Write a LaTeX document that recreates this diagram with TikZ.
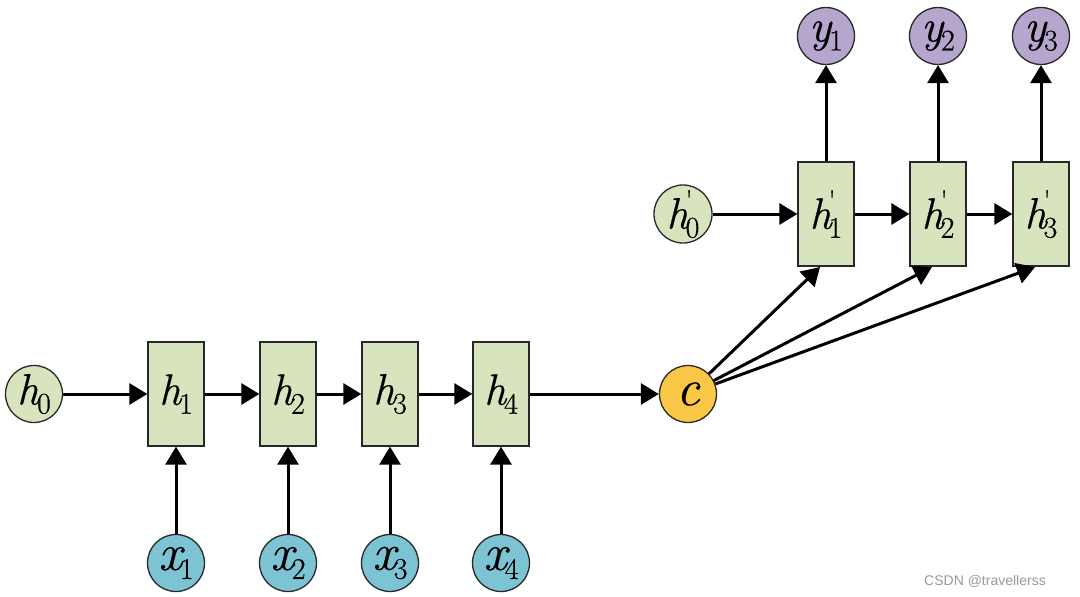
\documentclass[tikz,border=0pt]{standalone}
\usepackage{fontspec}
\newfontfamily\wmfont{Liberation Sans}
\newfontfamily\tms{Latin Modern Roman}[FakeBold=0.5]
\usetikzlibrary{arrows.meta}
\definecolor{boxgreen}{RGB}{215,228,189}
\definecolor{xblue}{RGB}{124,196,212}
\definecolor{ypurple}{RGB}{182,165,205}
\definecolor{cyellow}{RGB}{250,200,70}
\definecolor{edgec}{RGB}{40,40,40}
\newcommand\subl[3]{{\tms\fontsize{#3}{#3}\selectfont\itshape #1}\kern-2pt\raisebox{-9pt}{\tms\fontsize{30}{30}\selectfont #2}}
\newcommand\subp[2]{{\tms\fontsize{44}{44}\selectfont\itshape #1}\kern-3pt\rlap{\raisebox{19pt}{\tms\fontsize{28}{28}\selectfont '}}\raisebox{-9pt}{\tms\fontsize{30}{30}\selectfont #2}}
\tikzset{
  cell/.style={draw=edgec, line width=1.3pt, fill=boxgreen, minimum width=56pt, minimum height=104pt, inner sep=0pt, font=\tms},
  circ/.style={draw=edgec, line width=1.3pt, circle, minimum size=57pt, inner sep=0pt, font=\tms},
  arr/.style={line width=3pt, -{Triangle[length=18pt,width=21pt]}},
}
\begin{document}
\begin{tikzpicture}[x=1pt,y=-1pt]
\useasboundingbox (0,0) rectangle (1080,597);
% encoder
\node[circ, fill=boxgreen] (h0) at (34,394) {\subl{h}{0}{44}};
\node[cell] (h1) at (176,394) {\subl{h}{1}{44}};
\node[cell] (h2) at (288,394) {\subl{h}{2}{44}};
\node[cell] (h3) at (390,394) {\subl{h}{3}{44}};
\node[cell] (h4) at (501,394) {\subl{h}{4}{44}};
\node[circ, fill=xblue] (x1) at (176,563) {\subl{x}{1}{52}};
\node[circ, fill=xblue] (x2) at (288,563) {\subl{x}{2}{52}};
\node[circ, fill=xblue] (x3) at (390,563) {\subl{x}{3}{52}};
\node[circ, fill=xblue] (x4) at (501,563) {\subl{x}{4}{52}};
\node[circ, fill=cyellow] (c) at (688,394) {{\tms\fontsize{52}{52}\selectfont\itshape c}};
% decoder
\node[circ, fill=boxgreen] (hp0) at (683,214) {\subp{h}{0}};
\node[cell] (hp1) at (826,214) {\subp{h}{1}};
\node[cell] (hp2) at (938,214) {\subp{h}{2}};
\node[cell] (hp3) at (1041,214) {\subp{h}{3}};
\node[circ, fill=ypurple] (y1) at (826,36) {\subl{y}{1}{46}};
\node[circ, fill=ypurple] (y2) at (938,36) {\subl{y}{2}{46}};
\node[circ, fill=ypurple] (y3) at (1041,36) {\subl{y}{3}{46}};
% arrows
\draw[arr] (h0) -- (h1);
\draw[arr] (h1) -- (h2);
\draw[arr] (h2) -- (h3);
\draw[arr] (h3) -- (h4);
\draw[arr] (h4) -- (c);
\foreach \i in {1,2,3,4} \draw[arr] (x\i) -- (h\i);
\draw[arr] (hp0) -- (hp1);
\draw[arr] (hp1) -- (hp2);
\draw[arr] (hp2) -- (hp3);
\draw[arr] (hp1.north) -- (y1);
\draw[arr] (hp2.north) -- (y2);
\draw[arr] (hp3.north) -- (y3);
\coordinate (t1) at (820,267);
\coordinate (t2) at (932,267);
\coordinate (t3) at (1035,267);
\draw[arr] (c) -- (t1);
\draw[arr] (c) -- (t2);
\draw[arr] (c) -- (t3);
\node[text=gray!80, font=\wmfont\fontsize{14}{14}\selectfont] (wm) at (985,581) {CSDN @travellerss};
\end{tikzpicture}
\end{document}
